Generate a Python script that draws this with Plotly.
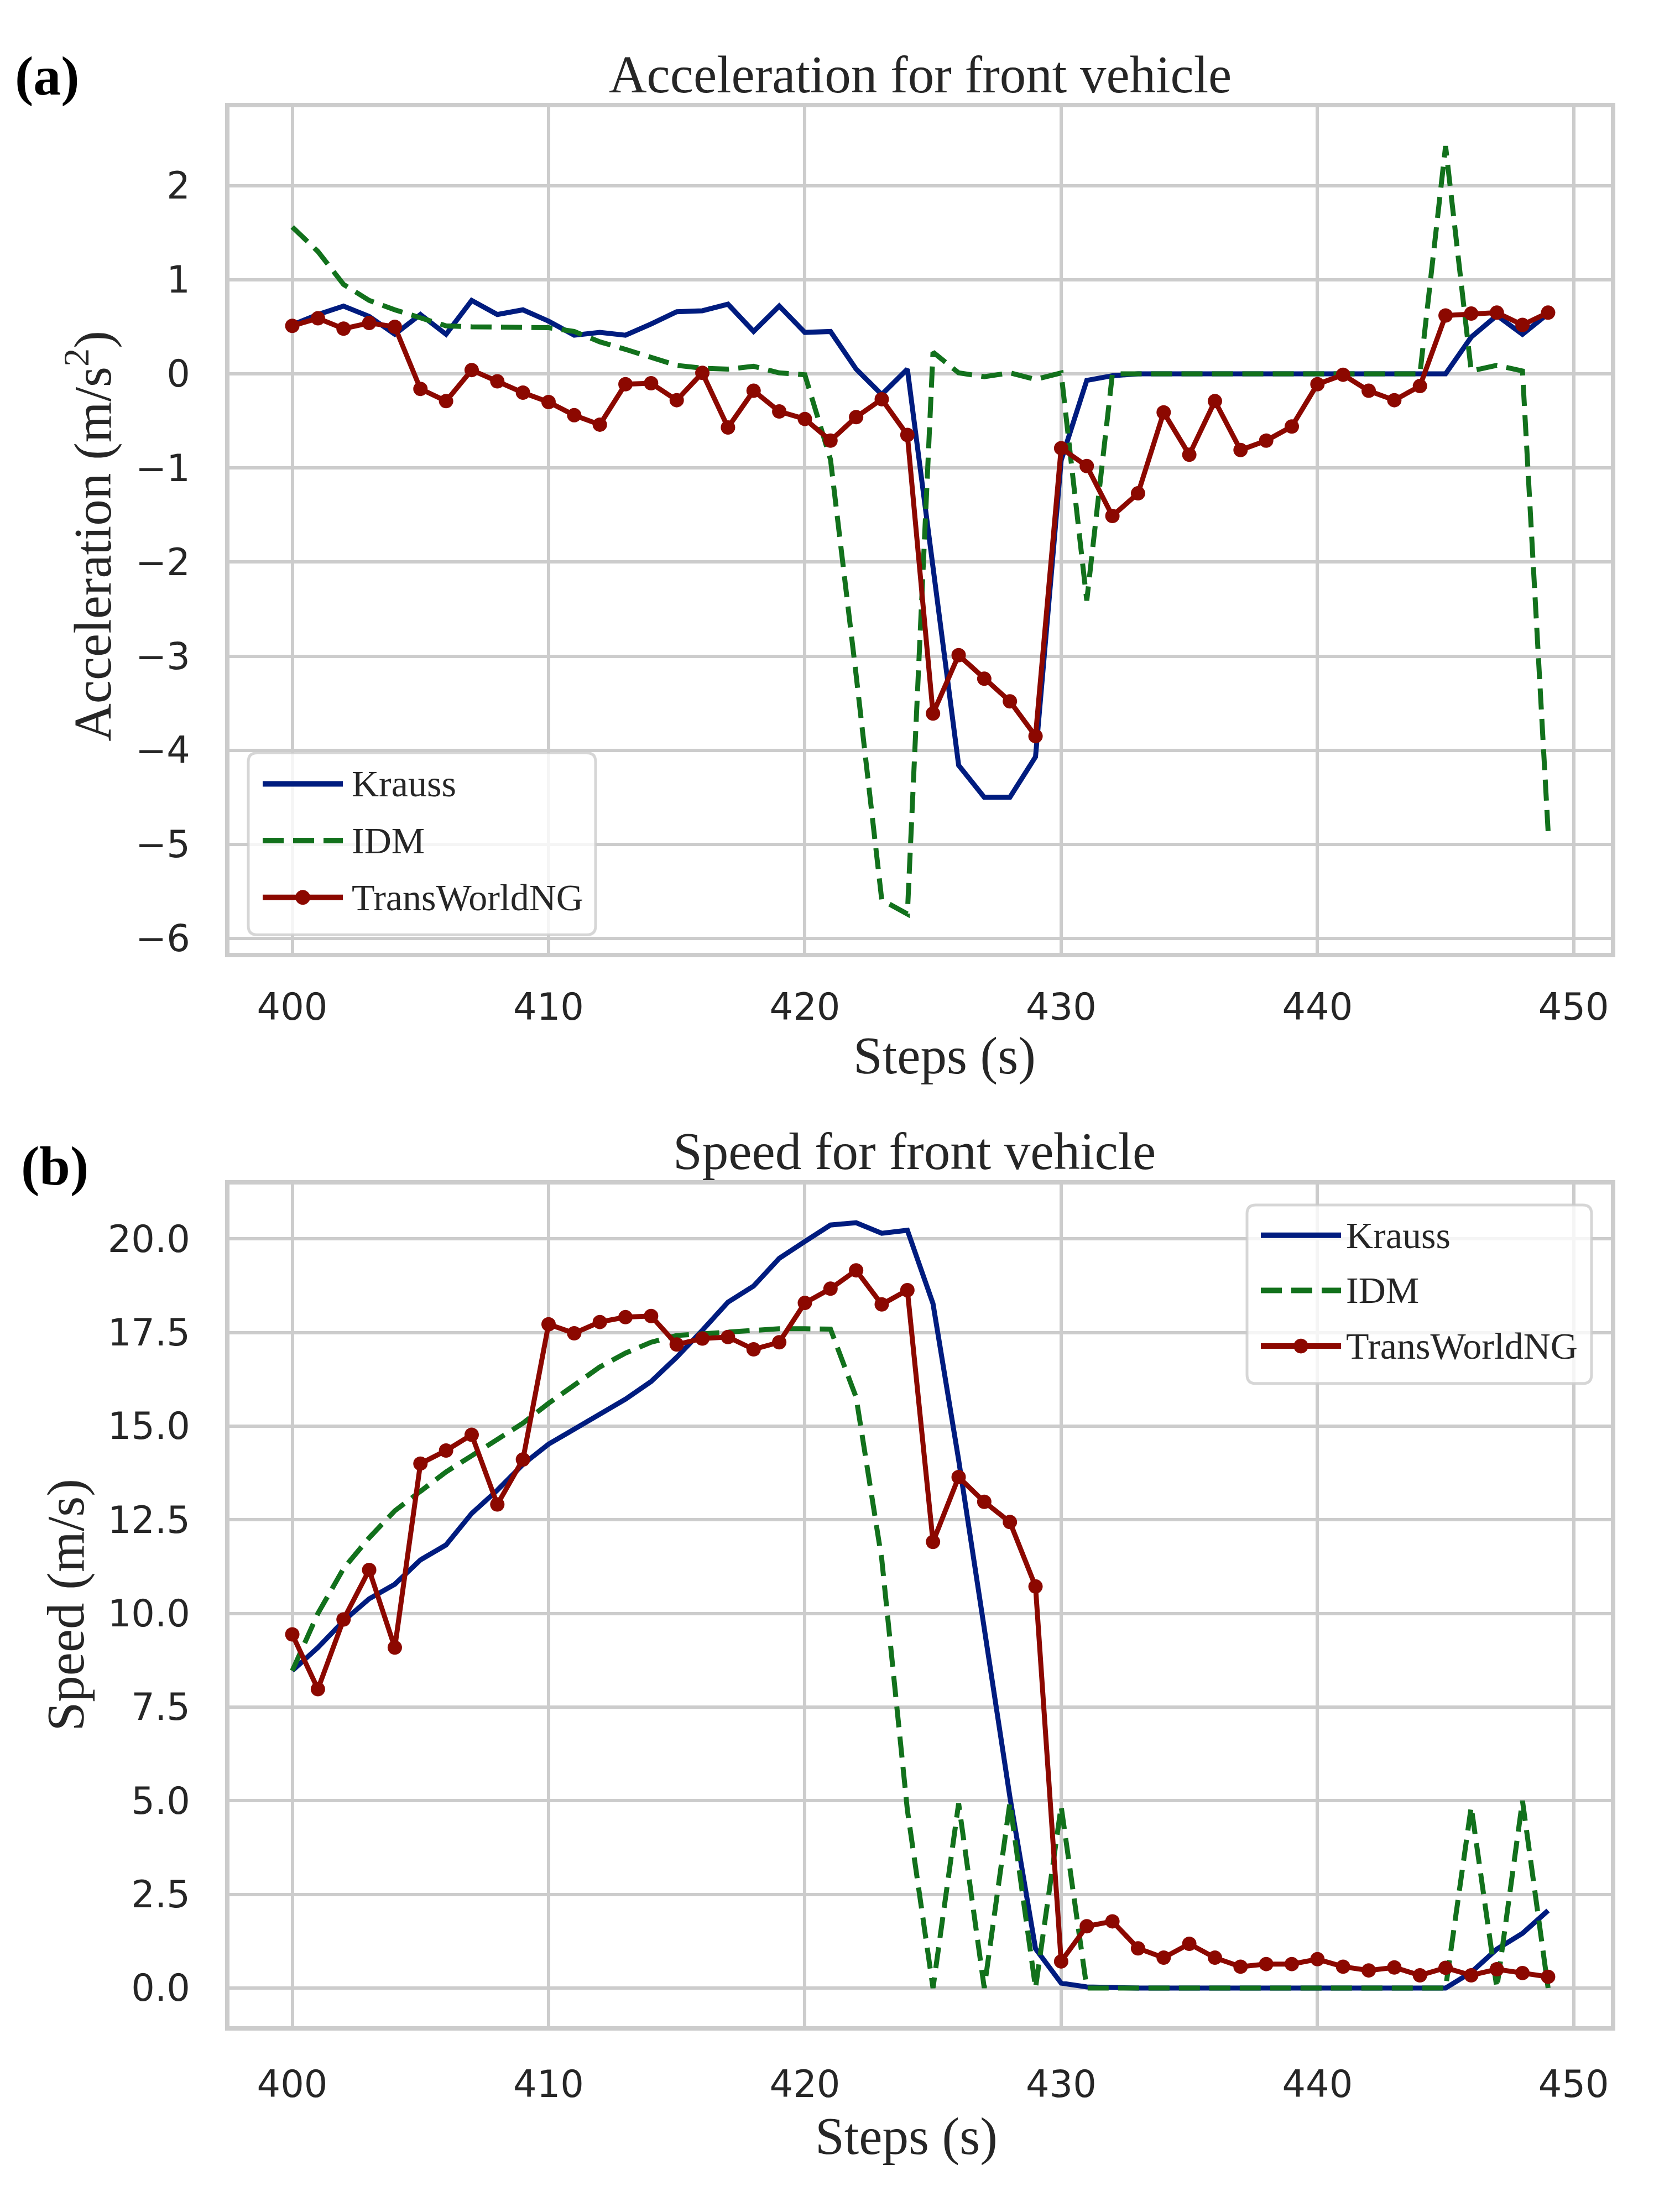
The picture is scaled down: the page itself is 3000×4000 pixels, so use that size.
import plotly.graph_objects as go

# ---------------- data ----------------
steps = list(range(400, 450))

krauss_acc = [0.52, 0.63, 0.72, 0.61, 0.42, 0.63, 0.42, 0.78, 0.63, 0.68,
              0.56, 0.41, 0.44, 0.41, 0.53, 0.66, 0.67, 0.74, 0.45, 0.72,
              0.44, 0.45, 0.05, -0.22, 0.05, -2.05, -4.16, -4.50, -4.50, -4.07,
              -0.92, -0.07, -0.02, 0, 0, 0, 0, 0, 0, 0,
              0, 0, 0, 0, 0, 0, 0.39, 0.62, 0.42, 0.64]

idm_acc = [1.56, 1.30, 0.95, 0.78, 0.68, 0.60, 0.51, 0.50, 0.50, 0.49,
           0.49, 0.45, 0.34, 0.26, 0.18, 0.09, 0.06, 0.05, 0.08, 0.01,
           -0.01, -0.91, -3.20, -5.59, -5.74, 0.23, 0.01, -0.03, 0.01, -0.06,
           0.01, -2.41, 0, 0, 0, 0, 0, 0, 0, 0,
           0, 0, 0, 0, 0, 2.42, 0.03, 0.09, 0.03, -4.86]

trans_acc = [0.51, 0.59, 0.48, 0.54, 0.50, -0.16, -0.29, 0.04, -0.08, -0.20,
             -0.30, -0.44, -0.54, -0.11, -0.10, -0.28, 0.01, -0.57, -0.18, -0.40,
             -0.48, -0.71, -0.46, -0.27, -0.65, -3.61, -2.99, -3.24, -3.48, -3.85,
             -0.79, -0.98, -1.51, -1.27, -0.41, -0.86, -0.29, -0.81, -0.71, -0.56,
             -0.11, -0.01, -0.18, -0.28, -0.13, 0.62, 0.64, 0.65, 0.52, 0.65]

krauss_speed = [8.47, 9.09, 9.80, 10.39, 10.78, 11.43, 11.83, 12.67, 13.29, 13.98,
                14.52, 14.92, 15.35, 15.72, 16.19, 16.84, 17.56, 18.31, 18.74, 19.48,
                19.93, 20.37, 20.43, 20.15, 20.23, 18.27, 14.10, 9.60, 5.10, 1.05,
                0.13, 0.03, 0, 0, 0, 0, 0, 0, 0, 0,
                0, 0, 0, 0, 0, 0, 0.42, 1.04, 1.46, 2.07]

idm_speed = [8.47, 10.00, 11.20, 12.02, 12.74, 13.26, 13.78, 14.21, 14.63, 15.08,
             15.61, 16.09, 16.58, 16.95, 17.24, 17.42, 17.46, 17.50, 17.54, 17.60,
             17.60, 17.59, 15.77, 11.45, 4.75, 0, 4.93, 0, 4.95, 0,
             4.85, 0, 0, 0, 0, 0, 0, 0, 0, 0,
             0, 0, 0, 0, 0, 0, 4.84, 0, 5.00, 0]

trans_speed = [9.44, 7.98, 9.84, 11.16, 9.09, 14.00, 14.35, 14.77, 12.91, 14.11,
               17.72, 17.48, 17.78, 17.91, 17.94, 17.18, 17.34, 17.38, 17.05, 17.24,
               18.29, 18.67, 19.16, 18.25, 18.63, 11.91, 13.64, 12.98, 12.44, 10.72,
               0.71, 1.65, 1.78, 1.06, 0.81, 1.18, 0.81, 0.57, 0.64, 0.64,
               0.77, 0.57, 0.47, 0.55, 0.34, 0.54, 0.34, 0.50, 0.40, 0.30]

series_names = ["Krauss", "IDM", "TransWorldNG"]
acc_ticks = [-6, -5, -4, -3, -2, -1, 0, 1, 2]
acc_ticktext = ["\u22126", "\u22125", "\u22124", "\u22123", "\u22122", "\u22121", "0", "1", "2"]
speed_ticks = [0, 2.5, 5, 7.5, 10, 12.5, 15, 17.5, 20]
speed_ticktext = ["0.0", "2.5", "5.0", "7.5", "10.0", "12.5", "15.0", "17.5", "20.0"]
x_ticks = [400, 410, 420, 430, 440, 450]

# ---------------- style ----------------
W, H = 3000, 4000
BLUE, GREEN, RED = "#001c7f", "#12711c", "#8c0800"
GRID = "#cccccc"
TXT = "#262626"
SERIF = "Liberation Serif, Times New Roman, serif"
SANS = "DejaVu Sans, sans-serif"
LW = 9
DASH = "38px,17px"
MS = 26


def X(px):
    return px / W


def Y(py):
    return 1 - py / H


fig = go.Figure()

styles = [
    dict(color=BLUE, width=LW, dash="solid"),
    dict(color=GREEN, width=LW, dash=DASH),
    dict(color=RED, width=LW, dash="solid"),
]
acc_series = [krauss_acc, idm_acc, trans_acc]
speed_series = [krauss_speed, idm_speed, trans_speed]

for i, (name, vals) in enumerate(zip(series_names, acc_series)):
    fig.add_trace(go.Scatter(
        x=steps, y=vals, name=name, xaxis="x", yaxis="y",
        mode="lines+markers" if i == 2 else "lines",
        line=styles[i], marker=dict(size=MS, color=RED),
        showlegend=False))

for i, (name, vals) in enumerate(zip(series_names, speed_series)):
    fig.add_trace(go.Scatter(
        x=steps, y=vals, name=name, xaxis="x2", yaxis="y2",
        mode="lines+markers" if i == 2 else "lines",
        line=styles[i], marker=dict(size=MS, color=RED),
        showlegend=False))

axis_common = dict(
    showgrid=True, gridcolor=GRID, gridwidth=6,
    showline=True, linecolor=GRID, linewidth=7.5, mirror=True,
    zeroline=False, ticks="",
    tickfont=dict(family=SANS, size=67, color=TXT),
)

xdom = [X(407), X(2905)]
fig.update_layout(
    width=W, height=H,
    margin=dict(l=0, r=0, t=0, b=0),
    paper_bgcolor="white", plot_bgcolor="white",
    showlegend=False,
    xaxis=dict(domain=xdom, range=[397.55, 451.45], tickvals=x_ticks,
               anchor="y", ticklabelstandoff=32, **axis_common),
    yaxis=dict(domain=[Y(1721), Y(187)], range=[-6.155, 2.83],
               tickvals=acc_ticks, ticktext=acc_ticktext,
               anchor="x", ticklabelstandoff=50, **axis_common),
    xaxis2=dict(domain=xdom, range=[397.55, 451.45], tickvals=x_ticks,
                anchor="y2", ticklabelstandoff=40, **axis_common),
    yaxis2=dict(domain=[Y(3668), Y(2141)], range=[-1.02, 21.45],
                tickvals=speed_ticks, ticktext=speed_ticktext,
                anchor="x2", ticklabelstandoff=50, **axis_common),
)

annotations = []


def ann(text, xpx, ypx, size, color=TXT, angle=0, xanchor="center", bold=False):
    if bold:
        text = "<b>" + text + "</b>"
    annotations.append(dict(
        text=text, x=X(xpx), y=Y(ypx), xref="paper", yref="paper",
        xanchor=xanchor, yanchor="middle", showarrow=False, textangle=angle,
        font=dict(family=SERIF, size=size, color=color)))


# panel (a)
ann("(a)", 77, 130, 100, color="black", bold=True)
ann("Acceleration for front vehicle", 1656, 127, 95)
ann("Steps (s)", 1700, 1907, 95)
ann("Acceleration (m/s<sup>2</sup>)", 153, 965, 95, angle=-90)
# panel (b)
ann("(b)", 91, 2107, 100, color="black", bold=True)
ann("Speed for front vehicle", 1645, 2081, 95)
ann("Steps (s)", 1631, 3868, 95)
ann("Speed (m/s)", 111, 2904, 95, angle=-90)

shapes = []


def rrect(x0, y0, x1, y1, r):
    p = (f"M {X(x0 + r)},{Y(y0)} L {X(x1 - r)},{Y(y0)} "
         f"Q {X(x1)},{Y(y0)} {X(x1)},{Y(y0 + r)} L {X(x1)},{Y(y1 - r)} "
         f"Q {X(x1)},{Y(y1)} {X(x1 - r)},{Y(y1)} L {X(x0 + r)},{Y(y1)} "
         f"Q {X(x0)},{Y(y1)} {X(x0)},{Y(y1 - r)} L {X(x0)},{Y(y0 + r)} "
         f"Q {X(x0)},{Y(y0)} {X(x0 + r)},{Y(y0)} Z")
    shapes.append(dict(type="path", path=p, xref="paper", yref="paper",
                       fillcolor="rgba(255,255,255,0.8)",
                       line=dict(color="rgba(204,204,204,0.8)", width=5),
                       layer="above"))


def legend(box, lx0, lx1, ys, tx):
    rrect(*box, 16)
    for i, (name, yy) in enumerate(zip(series_names, ys)):
        st = styles[i]
        shapes.append(dict(type="line", xref="paper", yref="paper",
                           x0=X(lx0), x1=X(lx1), y0=Y(yy), y1=Y(yy),
                           line=dict(color=st["color"], width=10, dash=st["dash"]),
                           layer="above"))
        if i == 2:
            cx = (lx0 + lx1) / 2
            shapes.append(dict(type="circle", xref="paper", yref="paper",
                               x0=X(cx - MS / 2), x1=X(cx + MS / 2),
                               y0=Y(yy - MS / 2), y1=Y(yy + MS / 2),
                               fillcolor=RED, line=dict(color=RED, width=1),
                               layer="above"))
        annotations.append(dict(
            text=name, x=X(tx), y=Y(yy), xref="paper", yref="paper",
            xanchor="left", yanchor="middle", showarrow=False,
            font=dict(family=SERIF, size=68, color=TXT)))


legend((441, 1358, 1069, 1688), 467, 612, [1414, 1517, 1620], 626)
legend((2247, 2178, 2870, 2502), 2272, 2417, [2233, 2333, 2434], 2424)

fig.update_layout(annotations=annotations, shapes=shapes)

fig.write_html("out.html")
